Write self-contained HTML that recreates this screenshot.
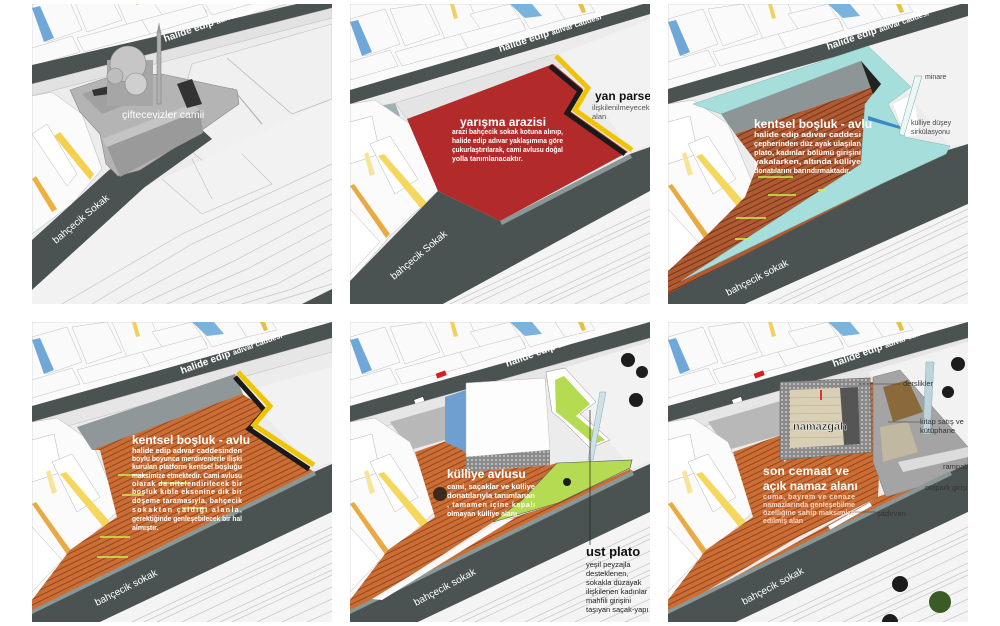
<!DOCTYPE html>
<html><head><meta charset="utf-8"><style>
html,body{margin:0;padding:0;background:#fff;width:1000px;height:626px;overflow:hidden}
svg{display:block}
text{font-family:"Liberation Sans","DejaVu Sans",sans-serif}
.t{fill:#fff;font-weight:bold;font-size:12px}
.b{fill:#fff;font-weight:bold;font-size:7px}
.r{fill:#fff;font-weight:bold;font-size:10px}
.k{fill:#222;font-size:7.5px}
</style></head><body>
<svg width="1000" height="626" viewBox="0 0 1000 626" xmlns="http://www.w3.org/2000/svg">
<defs>
<clipPath id="c"><rect x="0" y="0" width="300" height="300"/></clipPath>
<pattern id="deck" width="5" height="5" patternUnits="userSpaceOnUse" patternTransform="rotate(-26)">
<rect width="5" height="5" fill="#cc6e34"/><rect y="4" width="5" height="0.9" fill="#8a4220"/>
</pattern>
<pattern id="deck2" width="5" height="5" patternUnits="userSpaceOnUse" patternTransform="rotate(-26)">
<rect width="5" height="5" fill="#b05a32"/><rect y="4" width="5" height="1" fill="#73351c"/>
</pattern>
<pattern id="mesh" width="4" height="4" patternUnits="userSpaceOnUse">
<rect width="4" height="4" fill="#8a8a8a"/><circle cx="2" cy="2" r="1" fill="#c8c8c8"/>
</pattern>
<g id="houses" stroke="#c0c0c0" stroke-width="0.5" fill="#fafafa">
<polygon points="0,0 300,0 300,0 0,90"/>
<polygon points="0,15 35,5 50,40 15,52"/>
<polygon points="40,5 75,0 90,30 55,42"/>
<polygon points="80,0 120,0 130,25 95,35"/>
<polygon points="120,10 160,0 175,22 135,32"/>
<polygon points="165,0 205,0 215,15 180,25"/>
<polygon points="205,0 240,0 245,8 215,15"/>
<polygon points="0,58 40,46 48,62 0,76"/>
<polygon points="45,48 110,30 118,44 52,62"/>
<polygon points="110,30 170,14 176,26 118,44"/>
<polygon points="0,18 8,16 22,48 12,52" fill="#6fa8d8" stroke="none"/>
<polygon points="160,0 182,0 192,12 175,14" fill="#7ab3de" stroke="none"/>
<polygon points="100,0 104,0 108,14 104,15" fill="#f0d060" stroke="none"/>
<polygon points="228,0 233,0 236,8 232,9" fill="#e8c040" stroke="none"/>
</g>
<g id="leftb" stroke="#b5b5b5" stroke-width="0.5">
<polygon points="0,100 25,96 60,120 88,187 40,232 0,278" fill="#fbfbfb"/>
<polygon points="0,118 22,112 30,150 0,160" fill="#fff"/>
<polygon points="20,140 40,132 68,175 45,190" fill="#fff"/>
<polygon points="28,152 34,150 78,200 72,206" fill="#f4d75c" stroke="none"/>
<polygon points="0,182 4,180 40,230 36,234" fill="#e9a943" stroke="none"/>
<polygon points="0,205 30,238 0,270" fill="#fff"/>
<polygon points="14,150 18,148 25,170 20,172" fill="#f6e49a" stroke="none"/>
</g>
<g id="cont" fill="none" stroke="#c6c6c6" stroke-width="0.7">
<polyline points="100,300 300,205"/><polyline points="125,300 300,217"/><polyline points="150,300 300,229"/>
<polyline points="175,300 300,241"/><polyline points="200,300 300,253"/><polyline points="225,300 300,265"/>
<polyline points="250,300 300,277"/><polyline points="275,300 300,289"/><polyline points="112,300 300,212"/>
<polyline points="188,300 300,248"/>
</g>
</defs>

<!-- PANEL 1 -->
<g transform="translate(32,4)"><g clip-path="url(#c)">
<rect width="300" height="300" fill="#ececec"/>
<use href="#houses" transform="translate(0,-14)"/>
<polygon points="0,61 282,-4 300,-4 300,4 0,80" fill="#4b5352"/>
<polygon points="0,80 300,4 300,14 0,92" fill="#e2e2e2" stroke="#bbb" stroke-width="0.5"/>
<polygon points="160,60 300,20 300,160 220,200 140,130" fill="#f0f0f0" stroke="#bdbdbd" stroke-width="0.6"/>
<polyline points="195,54 260,110 300,95" fill="none" stroke="#b5b5b5" stroke-width="0.7"/>
<polyline points="200,84 230,120" fill="none" stroke="#aaa" stroke-width="1"/>
<g stroke="#b5b5b5" stroke-width="0.5">
<polygon points="0,92 20,88 50,110 70,165 40,200 0,230" fill="#fbfbfb"/>
<polygon points="0,130 15,120 45,170 35,182" fill="#fff"/>
<polygon points="22,132 28,128 62,170 58,176" fill="#f4d04c" stroke="none"/>
<polygon points="0,175 4,172 25,205 20,208" fill="#eeb040" stroke="none"/>
</g>
<polygon points="0,236 77,166 168,124 180,135 113,183 0,286" fill="#4b5352"/>
<polygon points="0,286 113,183 300,95 300,300 0,300" fill="#f2f2f2"/>
<g fill="none" stroke="#c4c4c4" stroke-width="0.7">
<polyline points="60,300 160,240 300,175"/><polyline points="85,300 180,250 300,190"/><polyline points="110,300 200,258 300,205"/>
<polyline points="135,300 215,265 300,220"/><polyline points="160,300 230,272 300,235"/><polyline points="185,300 245,280 300,250"/>
<polyline points="210,300 260,285 300,265"/><polyline points="235,300 300,280"/><polyline points="30,300 150,230 300,160"/>
<polyline points="130,175 170,210 240,180 210,150"/><polyline points="160,155 180,195"/>
</g>
<polygon points="270,300 300,285 300,300" fill="#4b5352"/>
<polygon points="38,86 80,72 130,70 205,86 207,100 170,126 108,166 86,172 74,160 68,130 48,108" fill="#b4b4b4" stroke="#888" stroke-width="0.6"/>
<polygon points="50,90 80,80 110,80 108,95 70,110" fill="#a0a0a0"/>
<polygon points="75,143 168,106 171,129 88,173" fill="#9a9a9a"/>
<polygon points="75,143 168,106 160,100 70,135" fill="#c4c4c4"/>
<polygon points="145,80 160,75 170,100 155,104" fill="#333"/>
<polygon points="60,86 78,82 78,90 62,92" fill="#333"/>
<rect x="75" y="56" width="46" height="46" fill="#a6a6a6"/>
<circle cx="96" cy="60" r="18" fill="#c6c6c6" stroke="#888" stroke-width="0.6"/>
<circle cx="104" cy="80" r="11" fill="#cfcfcf" stroke="#888" stroke-width="0.6"/>
<circle cx="83" cy="72" r="8" fill="#bdbdbd" stroke="#888" stroke-width="0.6"/>
<rect x="125" y="28" width="4" height="72" fill="#b0b0b0" stroke="#777" stroke-width="0.5"/>
<polygon points="125,28 127,18 129,28" fill="#999"/>
<text x="90" y="114" class="r" style="font-weight:normal;font-size:10.5px">çiftecevizler camii</text>
<text transform="translate(133,38) rotate(-19)" class="r">halide edip <tspan font-size="7.5">adıvar caddesi</tspan></text>
<text transform="translate(24,240) rotate(-40)" class="r" style="font-weight:normal">bahçecik Sokak</text>
</g></g>

<!-- PANEL 2 -->
<g transform="translate(350,4)"><g clip-path="url(#c)">
<rect width="300" height="300" fill="#ececec"/>
<use href="#houses"/>
<polygon points="0,86 300,-2 300,10 0,100" fill="#4b5352"/>
<polygon points="45,99 205,50 215,62 57,115" fill="#e4e4e4" stroke="#bbb" stroke-width="0.5"/>
<polygon points="28,102 45,99 50,112 32,114" fill="#9fb0b5"/>
<polygon points="210,50 300,15 300,140 280,148 240,85" fill="#f2f2f2"/>
<use href="#leftb"/>
<polygon points="57,115 203,60 233,85 220,107 278,148 150,217 88,187" fill="#b32a2a"/>
<polyline points="203,60 233,85 220,107 278,148" fill="none" stroke="#1a1a1a" stroke-width="5" transform="translate(-3,2)"/>
<polyline points="206,52 238,84 225,106 282,146" fill="none" stroke="#f0c400" stroke-width="5"/>
<polygon points="0,277 88,187 150,217 280,150 300,143 300,187 93,300 0,300" fill="#4b5352"/>
<polygon points="150,217 280,150 282,154 152,221" fill="#8a9797"/>
<polygon points="93,300 300,187 300,300" fill="#f4f4f4"/>
<use href="#cont"/>
<text x="110" y="122" class="t">yarışma arazisi</text>
<text x="102" y="130" class="b" textLength="111" lengthAdjust="spacingAndGlyphs">arazi bahçecik sokak kotuna alınıp,</text>
<text x="102" y="139" class="b" textLength="111" lengthAdjust="spacingAndGlyphs">halide edip adıvar yaklaşımına göre</text>
<text x="102" y="148" class="b" textLength="111" lengthAdjust="spacingAndGlyphs">çukurlaştırılarak, cami avlusu doğal</text>
<text x="102" y="157" class="b">yolla tanımlanacaktır.</text>
<text x="245" y="96" style="font-weight:bold;font-size:12px;fill:#111">yan parsel</text>
<text x="242" y="106" style="font-size:7.5px;fill:#555">ilişkilenilmeyecek</text>
<text x="242" y="115" style="font-size:7.5px;fill:#555">alan</text>
<text transform="translate(150,48) rotate(-18)" class="r">halide edip <tspan font-size="7.5">adıvar caddesi</tspan></text>
<text transform="translate(44,276) rotate(-40)" class="r" style="font-weight:normal">bahçecik Sokak</text>
</g></g>

<!-- PANEL 3 -->
<g transform="translate(668,4)"><g clip-path="url(#c)">
<rect width="300" height="300" fill="#ececec"/>
<use href="#houses"/>
<polygon points="0,85 300,-2 300,15 0,100" fill="#4b5352"/>
<polygon points="200,42 300,12 300,140 282,142" fill="#f2f2f2"/>
<use href="#leftb"/>
<polygon points="0,300 0,285 280,146 300,140 300,200 77,300" fill="#4b5352"/>
<polygon points="67,130 213,80 197,100 193,160 13,277 0,285 0,267 40,230 77,193 90,160" fill="url(#deck2)"/>
<polygon points="13,277 213,180 278,150 280,146 0,290 0,285" fill="url(#deck2)"/>
<polygon points="25,100 200,42 243,83 220,100 237,133 282,142 278,150 213,180 13,277 193,160 197,100 213,80 193,57 53,110" fill="#a6dedb" stroke="#7fb8b6" stroke-width="0.5"/>
<polygon points="53,110 193,57 213,80 67,130" fill="#8e9596"/>
<polygon points="193,57 213,80 205,90" fill="#222"/>
<polygon points="225,100 245,90 252,130 238,133" fill="#fff"/>
<polygon points="247,72 254,72 236,132 231,130" fill="#eef6f7" stroke="#6aa" stroke-width="0.5"/>
<polygon points="200,112 232,122 232,125 200,116" fill="#3a88c8"/>
<polygon points="77,300 300,200 300,300" fill="#f4f4f4"/>
<use href="#cont"/>
<g stroke="#c8ef50" stroke-width="1.6"><line x1="90" y1="173" x2="125" y2="173"/><line x1="100" y1="191" x2="128" y2="191"/><line x1="68" y1="214" x2="98" y2="214"/><line x1="67" y1="235" x2="82" y2="235"/><line x1="150" y1="186" x2="158" y2="186"/></g>
<text x="86" y="124" class="t">kentsel boşluk - avlu</text>
<text x="86" y="133" class="b" textLength="107" lengthAdjust="spacingAndGlyphs">halide edip adıvar caddesi</text>
<text x="86" y="142" class="b" textLength="107" lengthAdjust="spacingAndGlyphs">çepherinden düz ayak ulaşılan</text>
<text x="86" y="151" class="b" textLength="107" lengthAdjust="spacingAndGlyphs">plato, kadınlar bölümü girişini</text>
<text x="86" y="160" class="b" textLength="107" lengthAdjust="spacingAndGlyphs">yakalarken, altında külliye</text>
<text x="86" y="169" class="b">donatılarını barındırmaktadır.</text>
<text x="257" y="75" style="font-size:7px;fill:#444">minare</text>
<text x="243" y="121" style="font-size:7px;fill:#444">külliye düşey</text>
<text x="243" y="130" style="font-size:7px;fill:#444">sirkülasyonu</text>
<text transform="translate(160,46) rotate(-19)" class="r">halide edip <tspan font-size="7.5">adıvar caddesi</tspan></text>
<text transform="translate(60,292) rotate(-27)" class="r" style="font-weight:normal">bahçecik sokak</text>
</g></g>

<!-- PANEL 4 -->
<g transform="translate(32,322)"><g clip-path="url(#c)">
<rect width="300" height="300" fill="#ececec"/>
<use href="#houses"/>
<polygon points="0,84 300,0 300,16 0,100" fill="#4b5352"/>
<polygon points="0,100 300,16 300,30 0,114" fill="#e6e6e6" stroke="#bbb" stroke-width="0.5"/>
<polygon points="210,70 300,45 300,140 282,146" fill="#f2f2f2"/>
<use href="#leftb"/>
<polygon points="45,105 203,52 212,75 60,128" fill="#8f9798"/>
<polygon points="60,128 210,72 236,88 220,106 282,150 0,290 0,278 38,228 85,195 68,128" fill="url(#deck)"/>
<polyline points="206,52 236,86 220,104 280,144" fill="none" stroke="#1a1a1a" stroke-width="5" transform="translate(-3,3)"/>
<polyline points="206,50 238,84 222,103 282,143" fill="none" stroke="#f0c400" stroke-width="5"/>
<polygon points="0,290 282,150 300,142 300,190 68,300 0,300" fill="#4b5352"/>
<polygon points="0,288 282,149 284,153 0,292" fill="#8a9797"/>
<polygon points="68,300 300,190 300,300" fill="#f4f4f4"/>
<use href="#cont"/>
<g stroke="#c8ef50" stroke-width="1.6"><line x1="86" y1="153" x2="115" y2="153"/><line x1="90" y1="173" x2="111" y2="173"/><line x1="68" y1="215" x2="98" y2="215"/><line x1="65" y1="235" x2="96" y2="235"/><line x1="150" y1="186" x2="175" y2="186"/><line x1="128" y1="161" x2="155" y2="161"/></g>
<text x="100" y="122" class="t">kentsel boşluk - avlu</text>
<text x="100" y="131" class="b" textLength="110" lengthAdjust="spacingAndGlyphs">halide edip adıvar caddesinden</text>
<text x="100" y="139" class="b" textLength="110" lengthAdjust="spacingAndGlyphs">boylu boyunca merdivenlerle ilişki</text>
<text x="100" y="147" class="b" textLength="110" lengthAdjust="spacingAndGlyphs">kurulan platform kentsel boşluğu</text>
<text x="100" y="156" class="b" textLength="110" lengthAdjust="spacingAndGlyphs">maksimize etmektedir. Cami avlusu</text>
<text x="100" y="164" class="b" textLength="110">olarak da nitelendirilecek bir</text>
<text x="100" y="172" class="b" textLength="110">boşluk kıble eksenine dik bir</text>
<text x="100" y="181" class="b" textLength="110">döşeme taramasıyla, bahçecik</text>
<text x="100" y="190" class="b" textLength="110">sokaktan çaldığı alanla,</text>
<text x="100" y="199" class="b" textLength="110" lengthAdjust="spacingAndGlyphs">gerektiğinde genleşebilecek bir hal</text>
<text x="100" y="208" class="b">almıştır.</text>
<text transform="translate(150,52) rotate(-20)" class="r">halide edip <tspan font-size="7.5">adıvar caddesi</tspan></text>
<text transform="translate(65,284) rotate(-27)" class="r" style="font-weight:normal">bahçecik sokak</text>
</g></g>

<!-- PANEL 5 -->
<g transform="translate(350,322)"><g clip-path="url(#c)">
<rect width="300" height="300" fill="#ececec"/>
<use href="#houses"/>
<polygon points="0,84 300,0 300,16 0,100" fill="#4b5352"/>
<rect x="86" y="50" width="10" height="5" fill="#d42020" transform="rotate(-20 91 52)"/>
<rect x="64" y="76" width="10" height="5" fill="#fff" stroke="#333" stroke-width="0.6" transform="rotate(-20 69 78)"/>
<polygon points="0,100 300,16 300,30 0,114" fill="#e6e6e6" stroke="#bbb" stroke-width="0.5"/>
<polygon points="40,100 116,78 116,112 60,128" fill="#b8b8b8"/>
<polygon points="200,50 300,20 300,140 282,146" fill="#f2f2f2"/>
<use href="#leftb"/>
<polygon points="65,130 116,112 116,150 200,143 207,141 172,178 143,200 20,280 0,292 0,278 38,228 85,195" fill="url(#deck)"/>
<polygon points="0,292 150,200 208,181 280,147 284,150 0,296" fill="url(#deck)"/>
<polygon points="0,290 282,150 300,142 300,190 68,300 0,300" fill="#4b5352"/>
<polygon points="0,288 282,149 284,153 0,292" fill="#8a9797"/>
<polygon points="68,300 300,190 300,300" fill="#f4f4f4"/>
<use href="#cont"/>
<polygon points="150,199 165,196 32,278 22,277" fill="#fafafa"/>
<polygon points="196,50 215,46 246,80 230,92 260,118 240,126 214,100 202,90" fill="#fff" stroke="#888" stroke-width="0.5"/>
<polygon points="205,58 214,54 240,82 226,94 255,118 244,122 216,98 206,90" fill="#b5db52"/>
<polygon points="207,141 282,138 280,146 208,181 143,200 172,178" fill="#b5db52" stroke="#555" stroke-width="0.6"/>
<polygon points="95,75 116,68 116,130 95,120" fill="#6f9fd0"/>
<polygon points="116,61 195,56 200,128 116,135" fill="#fdfdfd" stroke="#bbb" stroke-width="0.5"/>
<polygon points="116,135 200,128 200,143 116,150" fill="url(#mesh)"/>
<polygon points="250,70 256,70 243,138 238,138" fill="#cfe0e6" stroke="#8aa" stroke-width="0.5"/>
<g fill="#1c1c1c"><circle cx="278" cy="38" r="7"/><circle cx="292" cy="50" r="6"/><circle cx="286" cy="78" r="7"/><circle cx="217" cy="160" r="4"/><circle cx="90" cy="172" r="7" opacity="0.8"/></g>
<line x1="240" y1="88" x2="240" y2="223" stroke="#222" stroke-width="0.7"/>
<text x="97" y="156" class="t">külliye avlusu</text>
<text x="97" y="167" class="b" textLength="88" lengthAdjust="spacingAndGlyphs">cami, saçaklar ve külliye</text>
<text x="97" y="176" class="b" textLength="88" lengthAdjust="spacingAndGlyphs">donatılarıyla tanımlanan</text>
<text x="97" y="185" class="b" textLength="88">, tamamen içine kapalı</text>
<text x="97" y="194" class="b">olmayan külliye alanı</text>
<text x="236" y="234" style="font-weight:bold;font-size:13px;fill:#111">ust plato</text>
<text x="236" y="245" class="k">yeşil peyzajla</text>
<text x="236" y="254" class="k">desteklenen,</text>
<text x="236" y="263" class="k">sokakla düzayak</text>
<text x="236" y="272" class="k">ilişkilenen kadınlar</text>
<text x="236" y="281" class="k">mahfili girişini</text>
<text x="236" y="290" class="k">taşıyan saçak-yapı</text>
<text transform="translate(157,45) rotate(-20)" class="r">halide edip <tspan font-size="7.5">adıvar caddesi</tspan></text>
<text transform="translate(66,284) rotate(-28)" class="r" style="font-weight:normal">bahçecik sokak</text>
</g></g>

<!-- PANEL 6 -->
<g transform="translate(668,322)"><g clip-path="url(#c)">
<rect width="300" height="300" fill="#ececec"/>
<use href="#houses"/>
<polygon points="0,84 300,0 300,16 0,100" fill="#4b5352"/>
<rect x="86" y="50" width="10" height="5" fill="#d42020" transform="rotate(-20 91 52)"/>
<rect x="64" y="76" width="10" height="5" fill="#fff" stroke="#333" stroke-width="0.6" transform="rotate(-20 69 78)"/>
<polygon points="0,100 300,16 300,30 0,114" fill="#e6e6e6" stroke="#bbb" stroke-width="0.5"/>
<polygon points="40,100 116,78 116,112 60,128" fill="#b8b8b8"/>
<polygon points="200,50 300,20 300,140 282,146" fill="#f2f2f2"/>
<use href="#leftb"/>
<polygon points="65,130 116,112 116,140 200,60 215,60 210,175 130,215 20,280 0,292 0,278 38,228 85,195" fill="url(#deck)"/>
<polygon points="0,292 210,175 280,147 284,150 0,296" fill="url(#deck)"/>
<polygon points="205,55 232,48 300,125 300,150 218,175 205,140" fill="#a4a4a4" stroke="#777" stroke-width="0.5"/>
<polygon points="215,65 240,58 255,90 225,100" fill="#8a6a3a"/>
<polygon points="212,105 240,100 250,130 215,140" fill="#c0b8a0"/>
<polygon points="230,140 300,125 300,135 235,150" fill="#dcdcdc"/>
<polygon points="0,290 282,150 300,142 300,190 68,300 0,300" fill="#4b5352"/>
<polygon points="0,288 282,149 284,153 0,292" fill="#8a9797"/>
<polygon points="68,300 300,190 300,300" fill="#f4f4f4"/>
<use href="#cont"/>
<polygon points="112,60 202,56 204,130 112,138" fill="url(#mesh)" stroke="#666" stroke-width="0.6"/>
<polygon points="122,68 190,65 192,122 122,126" fill="#d9cfb5"/>
<polygon points="172,66 190,65 192,122 176,123" fill="#555"/>
<g stroke="#b0a890" stroke-width="0.6"><line x1="122" y1="76" x2="172" y2="75"/><line x1="122" y1="84" x2="172" y2="83"/><line x1="122" y1="92" x2="172" y2="91"/><line x1="122" y1="100" x2="174" y2="99"/><line x1="122" y1="108" x2="174" y2="107"/><line x1="122" y1="116" x2="176" y2="115"/></g>
<rect x="152" y="68" width="2" height="10" fill="#d33"/>
<polygon points="258,40 266,40 262,112 255,112" fill="#bcd4dc" stroke="#8aa" stroke-width="0.5"/>
<polygon points="160,204 202,180 204,184 162,208" fill="#fff" stroke="#888" stroke-width="0.5"/>
<g fill="#1c1c1c"><circle cx="290" cy="42" r="7"/><circle cx="280" cy="70" r="6"/><circle cx="232" cy="262" r="8"/><circle cx="222" cy="300" r="8"/></g>
<circle cx="272" cy="280" r="11" fill="#3c5a26"/>
<line x1="190" y1="62" x2="232" y2="62" stroke="#333" stroke-width="0.5"/>
<line x1="220" y1="100" x2="252" y2="100" stroke="#333" stroke-width="0.5"/>
<line x1="180" y1="190" x2="208" y2="190" stroke="#333" stroke-width="0.5"/>
<text x="125" y="108" style="font-weight:bold;font-size:11px;fill:#222;stroke:#fff;stroke-width:0.4">namazgâh</text>
<text x="235" y="64" style="font-size:7.5px;fill:#333">derslikler</text>
<text x="252" y="102" style="font-size:7.5px;fill:#333">kitap satış ve</text>
<text x="252" y="111" style="font-size:7.5px;fill:#333">kütüphane</text>
<text x="275" y="147" style="font-size:7.5px;fill:#333">rampalar</text>
<text x="257" y="168" style="font-size:7.5px;fill:#333">otopark girişi</text>
<text x="209" y="194" style="font-size:7.5px;fill:#333">şadırvan</text>
<text x="95" y="153" class="t" textLength="86">son cemaat ve</text>
<text x="95" y="168" class="t">açık namaz alanı</text>
<text x="95" y="177" class="b" textLength="92" style="fill:#f6d6c6">cuma, bayram ve cenaze</text>
<text x="95" y="185" class="b" textLength="92" lengthAdjust="spacingAndGlyphs" style="fill:#f6d6c6">namazlarında genleşebilme</text>
<text x="95" y="193" class="b" textLength="92" lengthAdjust="spacingAndGlyphs" style="fill:#f6d6c6">özelliğine sahip maksimize</text>
<text x="95" y="201" class="b" style="fill:#f6d6c6">edilmiş alan</text>
<text transform="translate(166,45) rotate(-20)" class="r">halide edip <tspan font-size="7.5">adıvar caddesi</tspan></text>
<text transform="translate(76,283) rotate(-28)" class="r" style="font-weight:normal">bahçecik sokak</text>
</g></g>
</svg>
</body></html>
